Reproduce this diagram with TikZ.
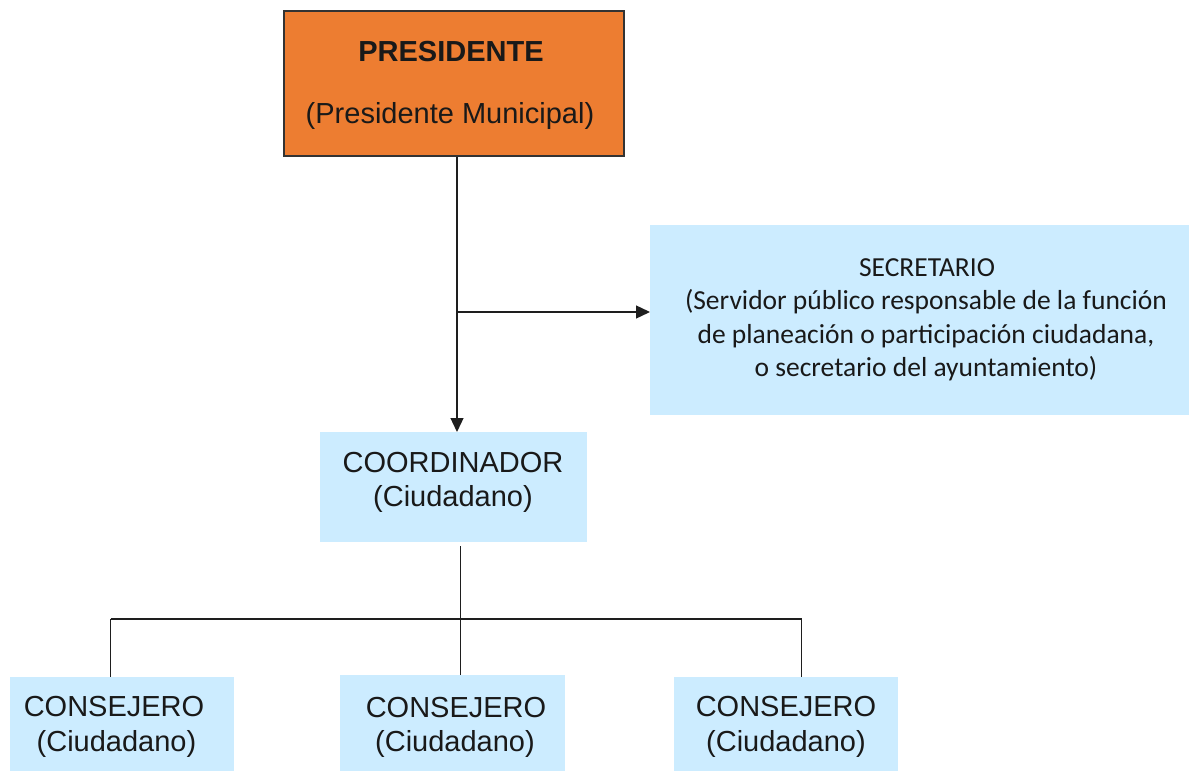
\documentclass[tikz,border=0pt]{standalone}
\usepackage{fontspec}
\setmainfont{Liberation Sans}
\newfontfamily\calib{Carlito}
\usetikzlibrary{arrows.meta}
\definecolor{orgfill}{RGB}{237,125,49}
\definecolor{bluefill}{RGB}{204,236,255}
\definecolor{linecol}{RGB}{30,30,30}

\begin{document}
\begin{tikzpicture}[x=1pt,y=-1pt,
  bluebox/.style={fill=bluefill, draw=none, anchor=north west, inner sep=0pt},
  lbl/.style={font=\fontsize{29}{33}\selectfont, inner sep=0pt, anchor=base, text=black!90},
  seclbl/.style={font=\calib\fontsize{27.5}{33}\selectfont, inner sep=0pt, anchor=base, text=black!90},
  conn/.style={line width=1.3pt, draw=linecol},
  tip/.style={-{Triangle[length=14pt,width=13pt]}}
]
\useasboundingbox (0,0) rectangle (1189,771);

% boxes
\node[draw=black!80, line width=1.5pt, fill=orgfill, anchor=north west,
      minimum width=340pt, minimum height=145pt, inner sep=0pt] (pres) at (283,10) {};
\node[bluebox, minimum width=539pt, minimum height=190pt] (sec) at (650,225) {};
\node[bluebox, minimum width=267pt, minimum height=110pt] (coord) at (320,432) {};
\node[bluebox, minimum width=224pt, minimum height=94pt] (c1) at (10,677) {};
\node[bluebox, minimum width=225pt, minimum height=96pt] (c2) at (340,675) {};
\node[bluebox, minimum width=224pt, minimum height=94pt] (c3) at (674,677) {};

% texts
\node[lbl, font=\bfseries\fontsize{29}{33}\selectfont] (presA) at (451,61) {PRESIDENTE};
\node[lbl] (presB) at (450,123) {(Presidente Municipal)};

\node[seclbl] (secA) at (927,276) {SECRETARIO};
\node[seclbl] (secB) at (926,309.5) {(Servidor público responsable de la función};
\node[seclbl] (secC) at (926,343) {de planeación o participación ciudadana,};
\node[seclbl] (secD) at (926,376.5) {o secretario del ayuntamiento)};

\node[lbl] (coordA) at (453,472) {COORDINADOR};
\node[lbl] (coordB) at (453,506) {(Ciudadano)};

\node[lbl] (c1A) at (114,716) {CONSEJERO};
\node[lbl] (c1B) at (116.5,751) {(Ciudadano)};
\node[lbl] (c2A) at (456,717) {CONSEJERO};
\node[lbl] (c2B) at (455,751) {(Ciudadano)};
\node[lbl] (c3A) at (786,716) {CONSEJERO};
\node[lbl] (c3B) at (786,751) {(Ciudadano)};

% connectors
\coordinate (trunk) at (457,0);
\coordinate (branch) at (457,312);
\draw[conn,tip] (pres.south -| trunk) -- (coord.north -| trunk);
\draw[conn,tip] (branch) -- (sec.west |- branch);

\coordinate (busL) at (110.5,619);
\coordinate (busM) at (460.5,619);
\coordinate (busR) at (801.5,619);
\draw[conn] (coord.south -| busM) ++(0,4) -- (busM);
\draw[conn] (busL) -- (busR);
\draw[conn] (busL) -- (busL |- c1.north);
\draw[conn] (busM) -- (busM |- c2.north);
\draw[conn] (busR) -- (busR |- c3.north);
\end{tikzpicture}
\end{document}
